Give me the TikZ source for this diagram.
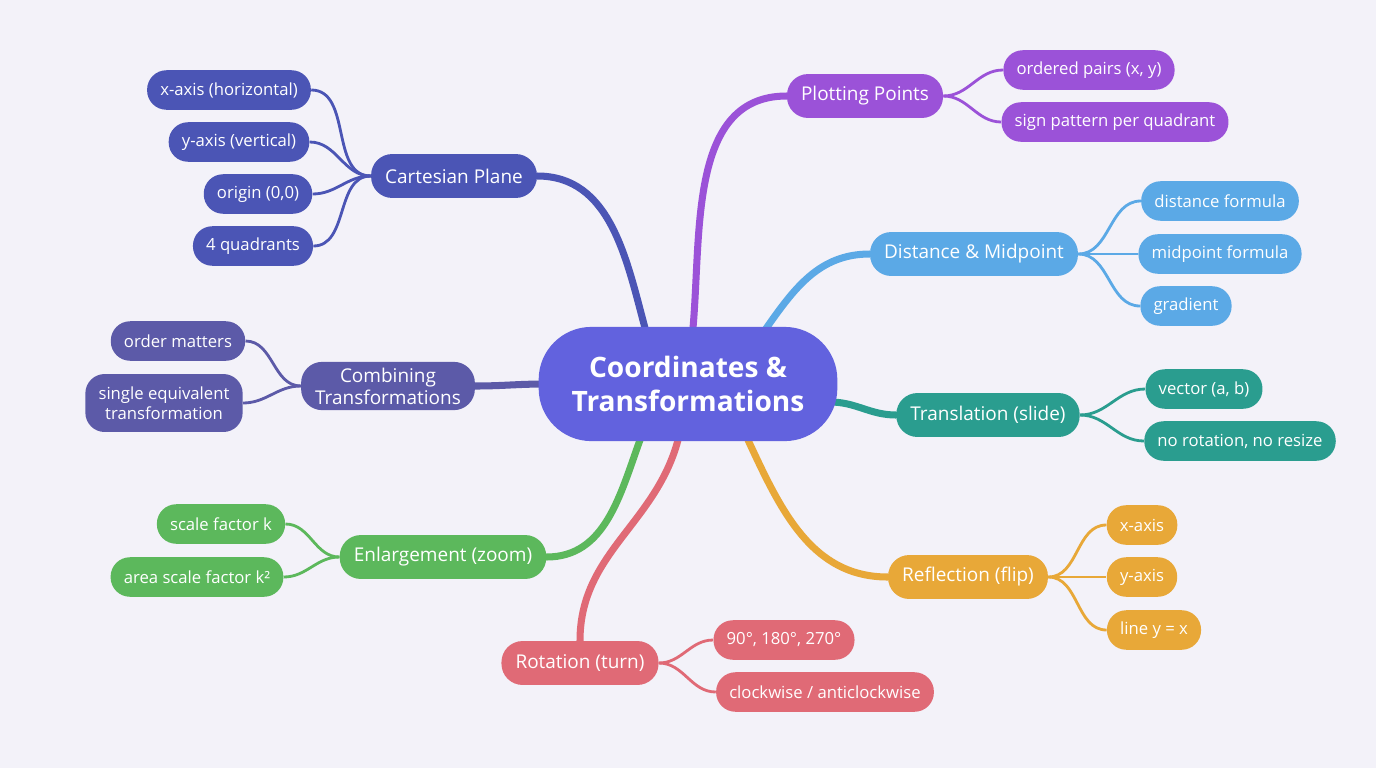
\documentclass[tikz,border=0pt]{standalone}
\usepackage{fontspec}
\setmainfont{Open Sans}
\usepackage{tikz}
\usepackage{xcolor}
\definecolor{bgc}{HTML}{F3F2F9}
\definecolor{hubc}{HTML}{6262DE}
\definecolor{cartc}{HTML}{4B55B5}
\definecolor{plotc}{HTML}{9B52D8}
\definecolor{distc}{HTML}{5BA9E6}
\definecolor{tranc}{HTML}{2A9D8F}
\definecolor{reflc}{HTML}{E8A838}
\definecolor{rotc}{HTML}{E06A76}
\definecolor{enlc}{HTML}{5CB85C}
\definecolor{combc}{HTML}{5C5AA8}
\tikzset{
    hub/.style = {fill=hubc, text=white, rounded corners=30pt, minimum width=170pt, minimum height=65pt, align=center, font=\fontsize{16}{19.5}\selectfont\bfseries},
    topic/.style = {fill=#1, text=white, rounded corners=12pt, minimum height=25pt, inner xsep=8pt, align=center, font=\fontsize{10.8}{12.5}\selectfont},
    leaf/.style = {fill=#1, text=white, rounded corners=11pt, minimum height=22.5pt, inner xsep=7.5pt, align=center, font=\fontsize{9.5}{11.5}\selectfont},
    trunk/.style = {draw=#1, line width=4pt, line cap=round},
    twig/.style = {draw=#1, line width=1.6pt},
}
\begin{document}
\begin{tikzpicture}[x=0.02cm, y=-0.02cm]
\fill[bgc] (0,0) rectangle (1376,768);
\useasboundingbox (0,0) rectangle (1376,768);

% branches
\node[topic=cartc] (cart) at (454,176) {Cartesian Plane};
\node[topic=plotc] (plot) at (865,96) {Plotting Points};
\node[topic=distc] (dist) at (974,254) {Distance \& Midpoint};
\node[topic=tranc] (tran) at (988,415) {Translation (slide)};
\node[topic=reflc] (refl) at (968,577) {Reflection (flip)};
\node[topic=rotc] (rot) at (580,663) {Rotation (turn)};
\node[topic=enlc] (enl) at (443,557) {Enlargement (zoom)};
\node[topic=combc] (comb) at (388,386) {Combining\\Transformations};

% trunks
\draw[trunk=cartc] (645,328) to[out=105,in=0] (cart.east);
\draw[trunk=plotc] (693,328) to[out=85,in=180] (plot.west);
\draw[trunk=distc] (765,330) to[out=55,in=180] (dist.west);
\draw[trunk=tranc] (830,402) to[out=0,in=180] (tran.west);
\draw[trunk=reflc] (748,440) to[out=-65,in=180] (refl.west);
\draw[trunk=rotc] (678,440) to[out=-105,in=90] (rot.north);
\draw[trunk=enlc] (640,440) to[out=-110,in=0] (enl.east);
\draw[trunk=combc] (545,384) to[out=180,in=0] (comb.east);

\node[hub] (hub) at (688,384) {Coordinates \&\\Transformations};

% leaves
\node[leaf=cartc] (c1) at (229,90) {x-axis (horizontal)};
\node[leaf=cartc] (c2) at (239,142) {y-axis (vertical)};
\node[leaf=cartc] (c3) at (258,194) {origin (0,0)};
\node[leaf=cartc] (c4) at (253,246) {4 quadrants};
\foreach \n in {c1,c2,c3,c4}
    \draw[twig=cartc] (cart.west) to[out=180,in=0] (\n.east);

\node[leaf=plotc] (p1) at (1089,70) {ordered pairs (x, y)};
\node[leaf=plotc] (p2) at (1115,122) {sign pattern per quadrant};
\foreach \n in {p1,p2}
    \draw[twig=plotc] (plot.east) to[out=0,in=180] (\n.west);

\node[leaf=distc] (d1) at (1220,201) {distance formula};
\node[leaf=distc] (d2) at (1220,254) {midpoint formula};
\node[leaf=distc] (d3) at (1186,306) {gradient};
\foreach \n in {d1,d2,d3}
    \draw[twig=distc] (dist.east) to[out=0,in=180] (\n.west);

\node[leaf=tranc] (t1) at (1204,389) {vector (a, b)};
\node[leaf=tranc] (t2) at (1240,441) {no rotation, no resize};
\foreach \n in {t1,t2}
    \draw[twig=tranc] (tran.east) to[out=0,in=180] (\n.west);

\node[leaf=reflc] (r1) at (1142,525) {x-axis};
\node[leaf=reflc] (r2) at (1142,577) {y-axis};
\node[leaf=reflc] (r3) at (1154,630) {line y = x};
\foreach \n in {r1,r2,r3}
    \draw[twig=reflc] (refl.east) to[out=0,in=180] (\n.west);

\node[leaf=rotc] (o1) at (784,640) {90°, 180°, 270°};
\node[leaf=rotc] (o2) at (825,692) {clockwise / anticlockwise};
\foreach \n in {o1,o2}
    \draw[twig=rotc] (rot.east) to[out=0,in=180] (\n.west);

\node[leaf=enlc] (e1) at (221,524) {scale factor k};
\node[leaf=enlc] (e2) at (197,577) {area scale factor k²};
\foreach \n in {e1,e2}
    \draw[twig=enlc] (enl.west) to[out=180,in=0] (\n.east);

\node[leaf=combc] (m1) at (178,341) {order matters};
\node[leaf=combc, minimum height=33pt] (m2) at (164,403) {single equivalent\\transformation};
\foreach \n in {m1,m2}
    \draw[twig=combc] (comb.west) to[out=180,in=0] (\n.east);
\end{tikzpicture}
\end{document}
